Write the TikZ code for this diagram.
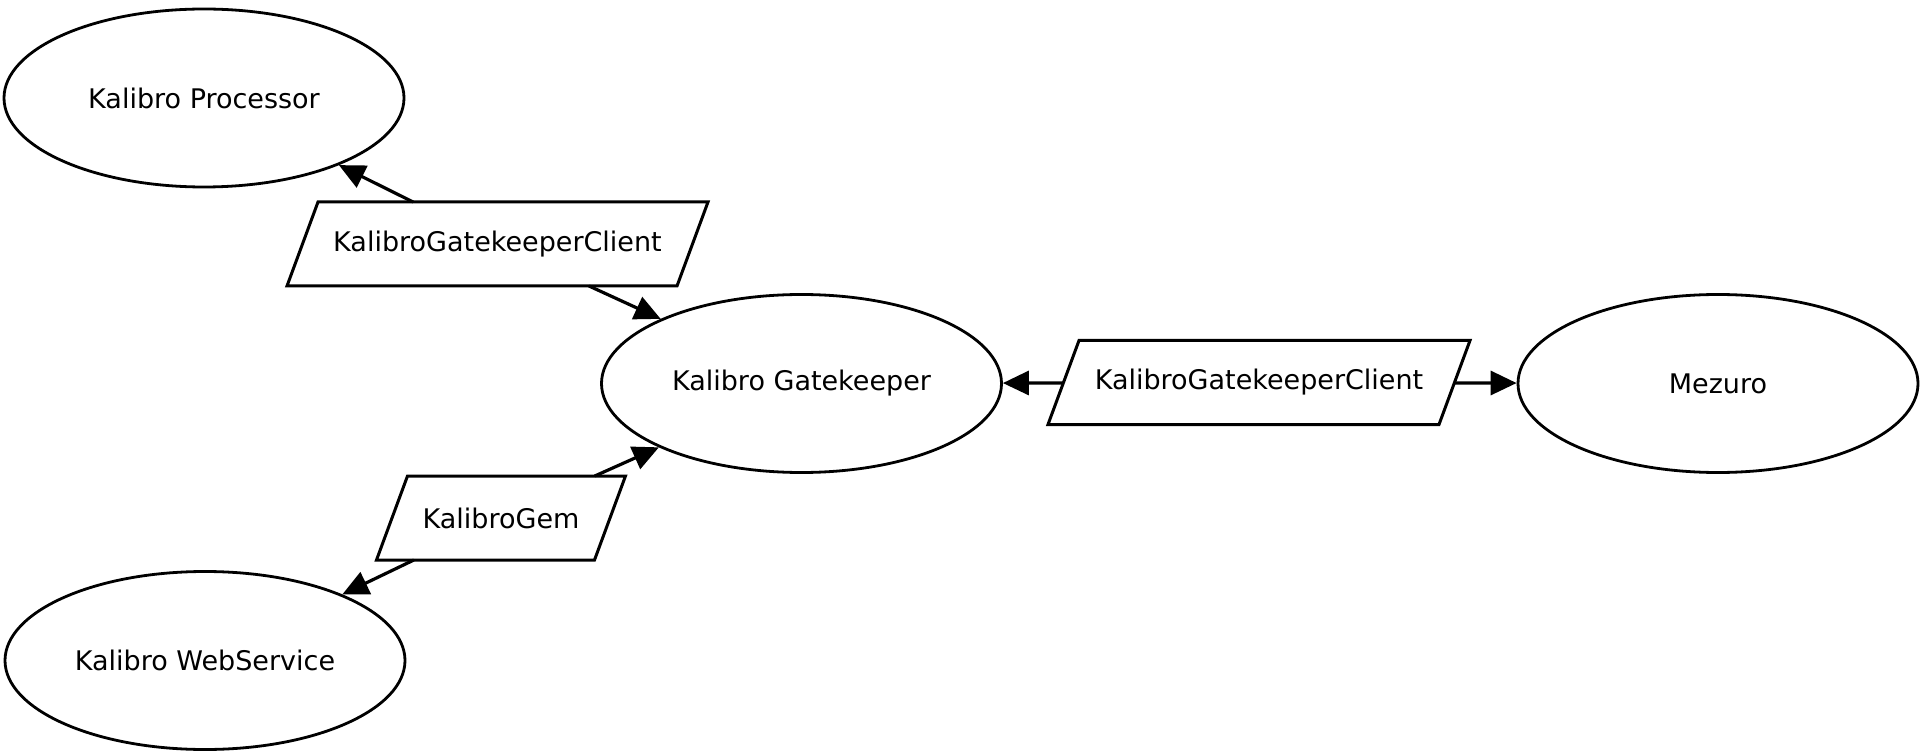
\documentclass[tikz,border=0pt]{standalone}
\usepackage{fontspec}
\setmainfont{DejaVu Sans}
\usetikzlibrary{shapes.geometric,arrows.meta}
\begin{document}
\begin{tikzpicture}[x=1pt,y=-1pt,
  comp/.style={ellipse, draw, line width=2.8pt, minimum width=400pt, minimum height=178pt, inner sep=0pt,
    font=\fontsize{27}{32}\selectfont},
  iface/.style={rectangle, draw=none, minimum height=84pt, inner sep=0pt, outer sep=0pt,
    font=\fontsize{27}{32}\selectfont},
  paraline/.style={line width=3pt, line join=miter},
  conn/.style={line width=3.2pt, -{Triangle[length=26pt,width=24pt]}}
]
\useasboundingbox (0,0) rectangle (1920,751);
\node[comp] (proc) at (204,98) {Kalibro Processor};
\node[comp] (gate) at (801.5,383.5) {Kalibro Gatekeeper};
\node[comp] (mez) at (1718,383.5) {Mezuro};
\node[comp] (web) at (205,660.5) {Kalibro WebService};
\node[iface, minimum width=390pt] (p1) at (497.5,244) {KalibroGatekeeperClient};
\node[iface, minimum width=391pt] (p2) at (1259,382.5) {KalibroGatekeeperClient};
\node[iface, minimum width=218pt] (p3) at (501,518) {KalibroGem};
\foreach \n in {p1,p2,p3}{
  \draw[paraline] ([xshift=15.5pt]\n.north west) -- ([xshift=15.5pt]\n.north east)
    -- ([xshift=-15.5pt]\n.south east) -- ([xshift=-15.5pt]\n.south west) -- cycle;
}
\draw[conn] (p1) -- (proc);
\draw[conn] (p1) -- (gate);
\draw[conn] (p3) -- (gate);
\draw[conn] (p3) -- (web);
\draw[conn] (p2) -- (gate);
\draw[conn] (p2) -- (mez);
\end{tikzpicture}
\end{document}
